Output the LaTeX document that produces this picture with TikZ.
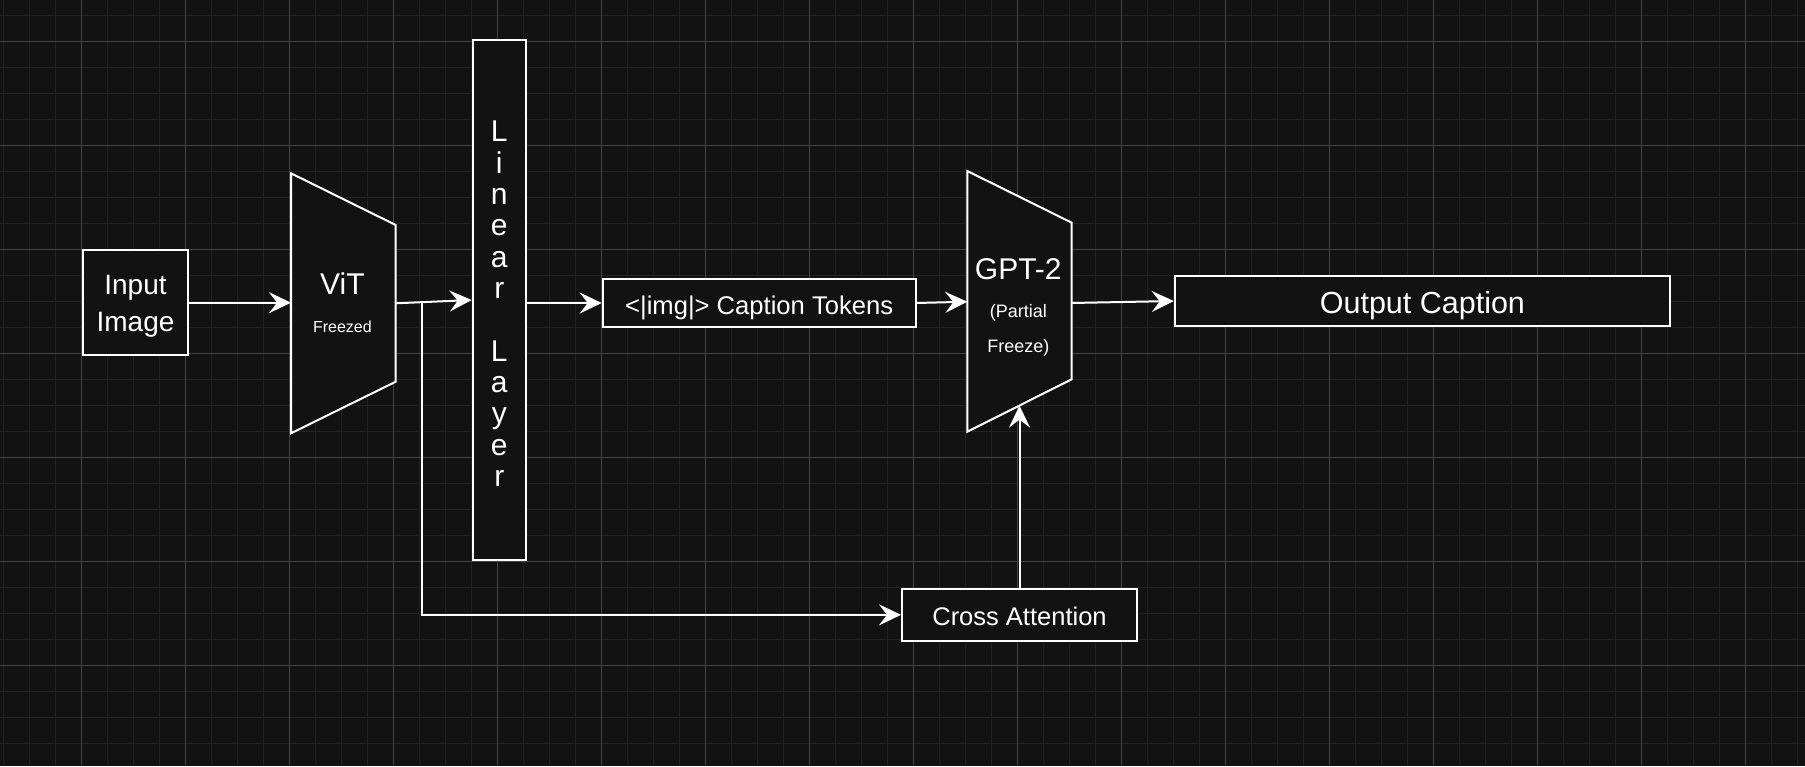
\documentclass[tikz,border=0pt]{standalone}
\usepackage{fontspec}
\setmainfont{Liberation Sans}
\usetikzlibrary{arrows.meta}
\definecolor{bg}{HTML}{121212}
\definecolor{gridminor}{HTML}{222222}
\definecolor{gridmajor}{HTML}{444444}
\tikzset{
  blk/.style={draw=white, line width=2pt, fill=bg, text=white, inner sep=0pt},
  trap/.style={draw=white, line width=2pt, fill=bg, line join=miter},
  lbl/.style={text=white, inner sep=0pt, align=center},
  arr/.style={draw=white, line width=2pt, -{Stealth[length=22pt,width=21pt,inset=8pt]}},
  minorgrid/.style={draw=gridminor, line width=1.5pt},
  majorgrid/.style={draw=gridmajor, line width=1pt},
}
\begin{document}
\begin{tikzpicture}[x=1pt,y=-1pt]
\fill[bg] (0,0) rectangle (1805,766);
\useasboundingbox (0,0) rectangle (1805,766);
% grid
\foreach \i in {0,...,69} \draw[minorgrid] ({3.7+26*\i},0) -- ({3.7+26*\i},766);
\foreach \j in {0,...,28} \draw[minorgrid] (0,{15.3+26*\j}) -- (1805,{15.3+26*\j});
\foreach \i in {0,...,16} \draw[majorgrid] ({81.7+104*\i},0) -- ({81.7+104*\i},766);
\foreach \j in {0,...,6} \draw[majorgrid] (0,{41.3+104*\j}) -- (1805,{41.3+104*\j});

% trapezoids
\draw[trap] (291,173.3) -- (395.7,225) -- (395.7,381.7) -- (291,433.3) -- cycle;
\draw[trap] (967.3,171) -- (1071.7,222.7) -- (1071.7,379.3) -- (967.3,431.7) -- cycle;
\coordinate (vitW) at (291,302.7);
\coordinate (vitE) at (395.7,303.3);
\coordinate (gptW) at (967.3,301.7);
\coordinate (gptE) at (1071.7,303);
\coordinate (gptS) at (1019.5,405.6);
\coordinate (br) at (421.5,302.4);

% nodes
\node[blk, minimum width=105pt, minimum height=104.7pt, align=center,
      font=\fontsize{28}{37.7}\selectfont, text height=58pt, text depth=0pt]
      (input) at (135.5,302.7) {Input\\Image};
\node[lbl, font=\fontsize{16}{38}\selectfont] (vit) at (342.4,302.3)
      {{\fontsize{30}{38}\selectfont ViT}\\Freezed};
\node[blk, minimum width=53.3pt, minimum height=520pt, align=center,
      font=\fontsize{30}{31.33}\selectfont, text height=373pt, text depth=0pt]
      (linear) at (499.3,300)
      {L\\i\\n\\e\\a\\r\\\mbox{}\\L\\a\\y\\e\\r};
\node[blk, minimum width=313pt, minimum height=48pt,
      font=\fontsize{25.6}{30}\selectfont, text height=22.6pt, text depth=0pt]
      (tokens) at (759.2,303) {<|img|> Caption Tokens};
\node[lbl, font=\fontsize{18}{35}\selectfont] (gpt) at (1018.3,307.2)
      {{\fontsize{30}{35}\selectfont GPT-2}\\[3.3pt](Partial\\Freeze)};
\node[blk, minimum width=495.3pt, minimum height=50pt,
      font=\fontsize{30.5}{36}\selectfont, text height=25pt, text depth=0pt]
      (output) at (1422.4,301) {Output Caption};
\node[blk, minimum width=235pt, minimum height=51.7pt,
      font=\fontsize{25.5}{30}\selectfont, text height=20.3pt, text depth=0pt]
      (cross) at (1019.5,614.85) {Cross Attention};

% connectors
\draw[arr] (input.east) -- (vitW);
\draw[arr] (vitE) -- (linear.west);
\draw[arr] (br) |- (cross.west);
\draw[arr] (tokens.west -| linear.east) -- (tokens.west);
\draw[arr] (tokens.east) -- (gptW);
\draw[arr] (gptE) -- (output.west);
\draw[arr] (cross.north) -- (gptS);
\end{tikzpicture}
\end{document}
